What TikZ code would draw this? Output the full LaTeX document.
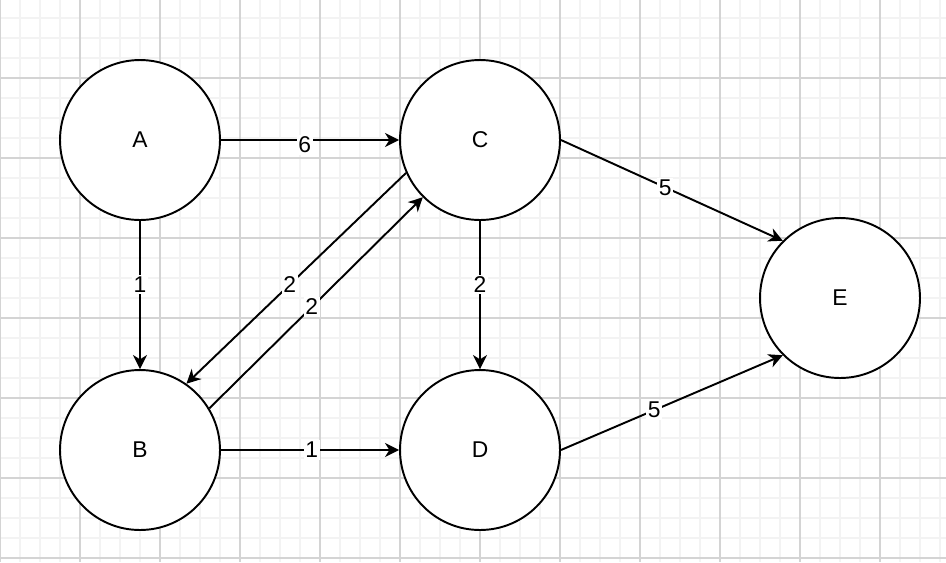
\documentclass[tikz,border=0pt]{standalone}
\usepackage{fontspec}
\setmainfont{Liberation Sans}
\usetikzlibrary{arrows.meta, positioning, calc}
\definecolor{gridminor}{HTML}{F3F3F3}
\definecolor{gridmajor}{HTML}{D4D4D4}

\begin{document}
\begin{tikzpicture}[x=0.02cm, y=-0.02cm,
    vertex/.style={circle, draw, fill=white, line width=1.1pt, minimum size=3.2cm, inner sep=0pt, font=\fontsize{13}{15}\selectfont},
    edge/.style={line width=1.1pt, -{Stealth[length=8pt, width=8pt, inset=2.5pt]}},
    wt/.style={fill=white, inner sep=1pt, font=\fontsize{13}{15}\selectfont}]
    \useasboundingbox (0,0) rectangle (946,562);
    % grid
    \foreach \x in {20,40,...,940} \draw[gridminor, line width=0.8pt] (\x,0) -- (\x,562);
    \foreach \y in {18,38,...,558} \draw[gridminor, line width=0.8pt] (0,\y) -- (946,\y);
    \foreach \x in {0,80,...,880} \draw[gridmajor, line width=0.6pt] (\x,0) -- (\x,562);
    \foreach \y in {78,158,...,558} \draw[gridmajor, line width=0.6pt] (0,\y) -- (946,\y);

    \node[vertex] (A) at (140,140) {A};
    \node[vertex] (B) at (140,450) {B};
    \node[vertex] (C) at (480,140) {C};
    \node[vertex] (D) at (480,450) {D};
    \node[vertex] (E) at (840,298) {E};

    \draw[edge] (A) -- node[wt, pos=0.47, yshift=-2.8pt] {6} (C);
    \draw[edge] (A) -- node[wt, pos=0.43] {1} (B);
    \draw[edge] (B) -- node[wt, pos=0.51] {1} (D);
    \draw[edge] (C) -- node[wt, pos=0.43] {2} (D);
    \draw[edge] (C.204) -- node[wt, pos=0.53] {2} (B.55);
    \draw[edge] (B.31) -- node[wt, pos=0.48] {2} (C.225);
    \draw[edge] (C.east) -- node[wt, pos=0.47] {5} (E.135);
    \draw[edge] (D.east) -- node[wt, pos=0.42] {5} (E.225);
\end{tikzpicture}
\end{document}
